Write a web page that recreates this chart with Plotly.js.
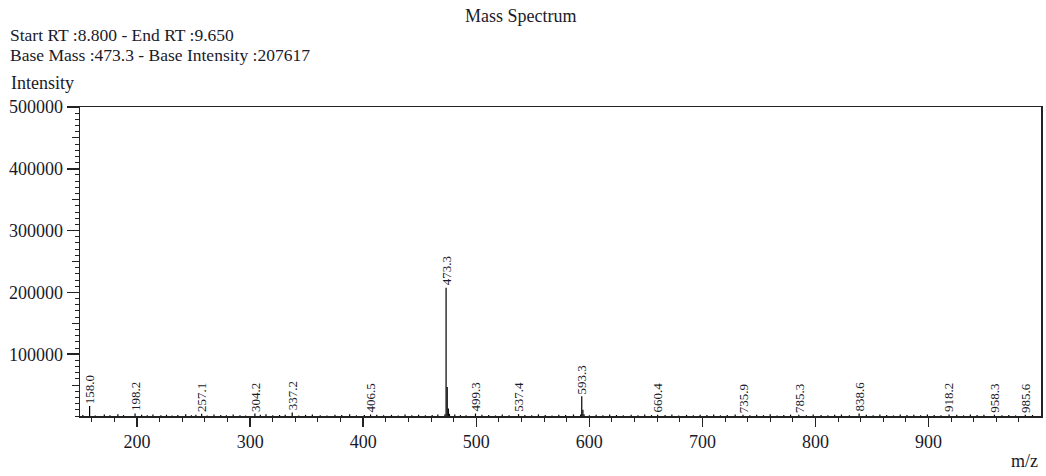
<!DOCTYPE html>
<html><head><meta charset="utf-8">
<script src="https://cdn.plot.ly/plotly-3.0.1.min.js"></script>
<style>html,body{margin:0;padding:0;background:#fff}</style>
</head><body>
<div id="chart" style="width:1046px;height:476px"></div>
<script>
// Labelled peaks (m/z, intensity)
const labelMz  = [158.0, 198.2, 257.1, 304.2, 337.2, 406.5, 473.3, 499.3, 537.4, 593.3, 660.4, 735.9, 785.3, 838.6, 918.2, 958.3, 985.6];
const labelInt = [16000, 4000, 3500, 4000, 5500, 2500, 207617, 4000, 3000, 32000, 2000, 2000, 2000, 4000, 2500, 2000, 2000];

// Unlabelled isotope / shoulder peaks
const shoulderMz  = [472.3, 474.3, 475.3, 476.3, 592.3, 594.3, 595.3];
const shoulderInt = [3000, 47000, 12000, 3500, 2500, 10000, 3000];

// Baseline noise sticks
const noiseMz = [
  152,163,171,176,183,188,204,209,214,221,
  226,231,236,243,248,252,262,268,274,279,
  285,291,296,309,314,320,326,331,343,349,
  355,362,368,375,381,388,394,401,412,418,
  425,431,437,443,449,455,461,466,481,486,
  491,505,511,517,523,529,543,549,555,561,
  567,573,579,586,600,606,612,618,624,630,
  637,643,649,655,667,673,679,686,692,698,
  704,710,716,722,729,742,748,754,760,766,
  772,778,792,798,805,811,817,823,830,845,
  851,857,863,869,875,881,887,893,899,905,
  911,925,931,937,943,949,965,971,977,992
];
const noiseInt = [
  1800,900,2400,1200,3000,1500,2200,1100,2600,1400,
  2000,900,1700,2800,1300,2100,1000,2500,1600,1200,
  2300,1400,900,1900,2700,1200,1600,2200,1000,1800,
  2400,1300,900,2000,1500,2800,1100,1700,2100,1300,
  1900,1000,2500,1400,2200,1200,1700,2600,2300,1500,
  1100,2000,1600,900,2400,1300,1800,1200,2700,1500,
  1000,2200,1700,2500,1300,1900,1100,2300,1600,1400,
  2000,1200,2600,1500,1700,2400,1000,1900,1300,2200,
  1500,2600,1100,1800,2300,1200,2000,1400,2700,1000,
  1700,2200,1300,2500,1600,1100,1900,2400,1200,2100,
  1400,2300,1800,1000,2600,1500,2100,1200,2400,1700,
  1300,2000,1100,2500,1600,2200,1400,1800,1000,1600
];

const yTickVals = [100000, 200000, 300000, 400000, 500000];
const yTickText = ['100000', '200000', '300000', '400000', '500000'];

const titleText = 'Mass Spectrum';
const infoLine1 = 'Start RT :8.800 - End RT :9.650';
const infoLine2 = 'Base Mass :473.3 - Base Intensity :207617';

// Build stick segments
const allMz = labelMz.concat(shoulderMz, noiseMz);
const allInt = labelInt.concat(shoulderInt, noiseInt);
const sx = [], sy = [];
for (let i = 0; i < allMz.length; i++) {
  sx.push(allMz[i], allMz[i], null);
  sy.push(0, allInt[i], null);
}

const FONT = 'Liberation Serif, Times New Roman, serif';
const INK = '#1a1a2a';

const traces = [
  {x: sx, y: sy, type: 'scatter', mode: 'lines', line: {color: '#000', width: 1.2}, connectgaps: false, hoverinfo: 'skip', showlegend: false},
  {x: [], y: [], type: 'scatter', mode: 'lines', yaxis: 'y2', showlegend: false}
];

// pixel helper for paper coords (plot area y: 107..416)
const T = 107, B = 416, H = B - T;
const py = p => (B - p) / H;

const annotations = labelMz.map((m, i) => ({
  x: m, y: labelInt[i], xref: 'x', yref: 'y',
  text: m.toFixed(1), textangle: -90, showarrow: false,
  xanchor: 'center', yanchor: 'bottom',
  font: {family: FONT, size: 13, color: INK}
}));

annotations.push(
  {text: titleText, xref: 'paper', yref: 'paper', x: (521 - 80) / 961, y: py(16), xanchor: 'center', yanchor: 'middle', showarrow: false, font: {family: FONT, size: 18, color: INK}},
  {text: infoLine1, xref: 'paper', yref: 'paper', x: (9 - 80) / 961, y: py(35), xanchor: 'left', yanchor: 'middle', showarrow: false, borderpad: 0, font: {family: FONT, size: 17.5, color: INK}},
  {text: infoLine2, xref: 'paper', yref: 'paper', x: (9 - 80) / 961, y: py(55), xanchor: 'left', yanchor: 'middle', showarrow: false, borderpad: 0, font: {family: FONT, size: 17.5, color: INK}},
  {text: 'Intensity', xref: 'paper', yref: 'paper', x: (9 - 80) / 961, y: py(83), xanchor: 'left', yanchor: 'middle', showarrow: false, font: {family: FONT, size: 18, color: INK}},
  {text: 'm/z', xref: 'paper', yref: 'paper', x: (1040 - 80) / 961, y: py(461), xanchor: 'right', yanchor: 'middle', showarrow: false, font: {family: FONT, size: 18, color: INK}}
);

const layout = {
  width: 1046, height: 476,
  margin: {l: 80, r: 5, t: T, b: 476 - B, pad: 0},
  paper_bgcolor: '#fff', plot_bgcolor: '#fff',
  showlegend: false,
  xaxis: {
    range: [149.5, 999.5], dtick: 100, tick0: 0,
    showline: true, mirror: true, linecolor: '#222', linewidth: 1.5,
    ticks: 'outside', ticklen: 9, tickwidth: 1.5, tickcolor: '#222',
    showgrid: false, zeroline: false,
    tickfont: {family: FONT, size: 18, color: INK},
    minor: {tickmode: 'linear', tick0: 0, dtick: 20, ticks: 'outside', ticklen: 4, tickwidth: 1, tickcolor: '#222', showgrid: false}
  },
  yaxis: {
    range: [0, 500000], tickmode: 'array', tickvals: yTickVals, ticktext: yTickText,
    showline: true, mirror: true, linecolor: '#222', linewidth: 1.5,
    ticks: 'outside', ticklen: 12, tickwidth: 1.5, tickcolor: '#222',
    showgrid: false, zeroline: false,
    tickfont: {family: FONT, size: 18, color: INK},
    minor: {tickmode: 'linear', tick0: 0, dtick: 10000, ticks: 'outside', ticklen: 4, tickwidth: 1, tickcolor: '#222', showgrid: false}
  },
  yaxis2: {
    overlaying: 'y', anchor: 'x', side: 'left', range: [0, 500000],
    tickmode: 'linear', tick0: 50000, dtick: 100000,
    ticks: 'outside', ticklen: 7, tickwidth: 1, tickcolor: '#222',
    showticklabels: false, showline: false, showgrid: false, zeroline: false
  },
  annotations: annotations
};

Plotly.newPlot('chart', traces, layout, {staticPlot: true, displayModeBar: false});
</script>
</body></html>
